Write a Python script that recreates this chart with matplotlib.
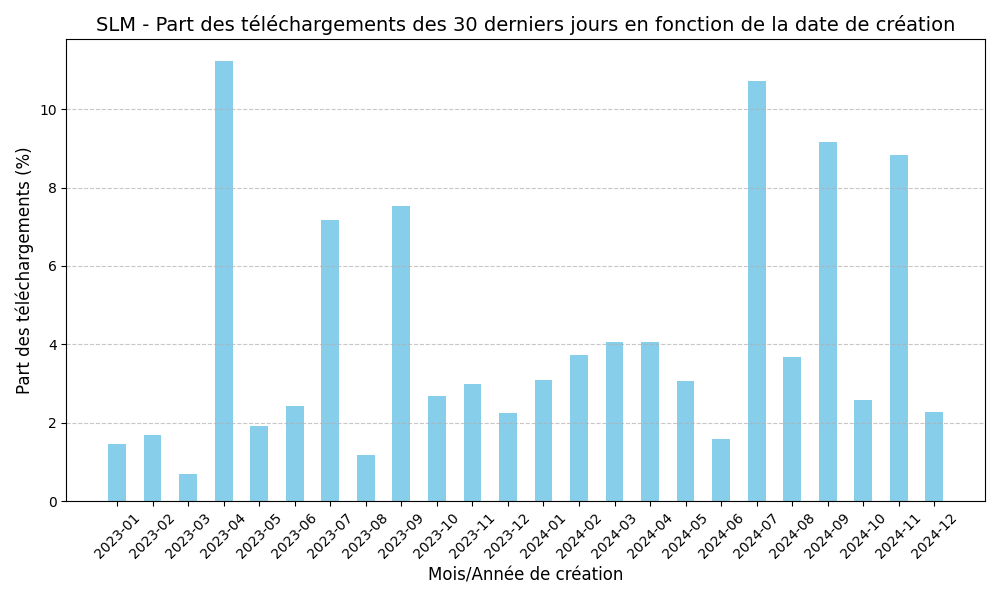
import numpy as np
import matplotlib.pyplot as plt

# share of downloads (%) per creation month
months = ['2023-01', '2023-02', '2023-03', '2023-04', '2023-05', '2023-06',
          '2023-07', '2023-08', '2023-09', '2023-10', '2023-11', '2023-12',
          '2024-01', '2024-02', '2024-03', '2024-04', '2024-05', '2024-06',
          '2024-07', '2024-08', '2024-09', '2024-10', '2024-11', '2024-12']
parts = [1.45, 1.68, 0.69, 11.22, 1.91, 2.42,
         7.17, 1.17, 7.53, 2.68, 2.98, 2.24,
         3.09, 3.72, 4.06, 4.06, 3.06, 1.58,
         10.71, 3.67, 9.16, 2.58, 8.83, 2.27]

fig, ax = plt.subplots(figsize=(10, 6), dpi=100)
ax.bar(months, parts, color='skyblue', width=0.5)
ax.set_title('SLM - Part des téléchargements des 30 derniers jours en fonction de la date de création', fontsize=14)
ax.set_xlabel('Mois/Année de création', fontsize=12)
ax.set_ylabel('Part des téléchargements (%)', fontsize=12)
plt.xticks(rotation=45)
ax.grid(axis='y', linestyle='--', alpha=0.7)
plt.tight_layout()
plt.savefig('out.png')
